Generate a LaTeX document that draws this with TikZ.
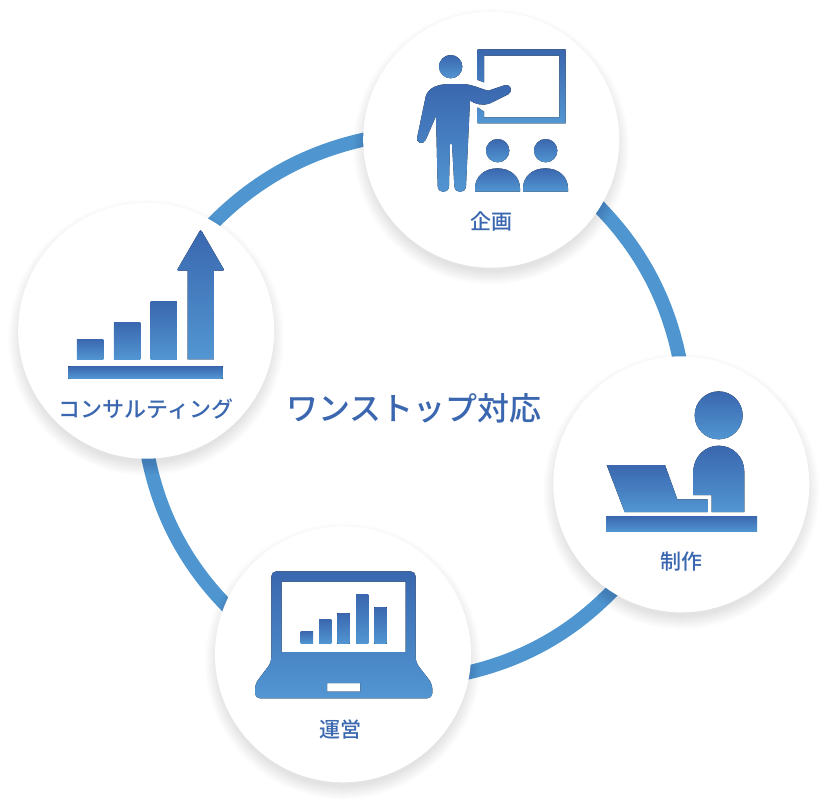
\documentclass[tikz,border=0pt]{standalone}
\usepackage{fontspec}
\setmainfont{Noto Sans CJK JP Medium}
\definecolor{gradtop}{RGB}{58,103,175}
\definecolor{gradbot}{RGB}{82,150,210}
\definecolor{ringblue}{RGB}{79,150,208}
\pgfdeclarelayer{back}
\pgfsetlayers{back,main}
\tikzset{
    hub/.style={circle, fill=white, minimum size=256pt, inner sep=0pt},
    grad/.style={top color=gradtop, bottom color=gradbot, draw=none},
    caption/.style={text=gradtop, font=\fontsize{21}{21}\selectfont, inner sep=0pt},
    ringline/.style={draw=ringblue, line width=14pt, bend left=17.5, looseness=.86,
        shorten <=-8pt, shorten >=-8pt},
}
\begin{document}
\begin{tikzpicture}[x=1pt, y=-1pt]
    \useasboundingbox (0, 0) rectangle (828, 807);

    % soft shadows under the four circles
    \foreach \x/\y in {491.2/139.7, 681.3/484.3, 343/654.3, 146.2/330.7} {
        \foreach \i in {0, ..., 13} {
            \fill[black, opacity=0.006] (\x, \y + 7) circle[radius=128 + \i - 3];
        }
    }

    \node[hub] (plan) at (491.2, 139.7) {};
    \node[hub] (make) at (681.3, 484.3) {};
    \node[hub] (run) at (343, 654.3) {};
    \node[hub] (consult) at (146.2, 330.7) {};

    \begin{pgfonlayer}{back}
        \draw[ringline] (plan.-32) to (make.91);
        \draw[ringline] (make.237) to (run.-8);
        \draw[ringline] (run.157) to (consult.-89);
        \draw[ringline] (consult.58) to (plan.180);
    \end{pgfonlayer}

    \node[caption] (plantext) at (491.7, 221.7) {企画};
    \node[caption] (maketext) at (681, 561.7) {制作};
    \node[caption] (runtext) at (340.7, 729) {運営};
    \node[caption, font=\fontsize{22}{22}\selectfont] (consulttext) at (146, 409.3) {コンサルティング};
    \node[text=gradtop, font=\fontsize{32}{32}\selectfont, inner sep=0pt] (title) at (414, 408) {ワンストップ対応};

    % teacher, board, audience
    \begin{scope}[shift={(360, 0)}, scale=1/3]
        \fill[grad, even odd rule] (353, 148) -- (617, 148) -- (617, 370) -- (353, 370) -- (353, 322)
            -- (372, 335) -- (372, 352) -- (598, 352) -- (598, 167) -- (372, 167) -- (372, 247)
            -- (353, 240) -- cycle;
        \fill[grad] (272, 200) circle[radius=35];
        \fill[grad] (197, 290) .. controls (205, 262) and (235, 252) .. (270, 252) -- (310, 252)
            .. controls (340, 254) and (365, 268) .. (385, 272) -- (436, 255)
            .. controls (452, 252) and (460, 274) .. (445, 283) -- (388, 311)
            .. controls (368, 318) and (345, 312) .. (330, 302) -- (318, 558)
            .. controls (317, 582) and (284, 582) .. (283, 558) -- (276, 432) -- (270, 432) -- (267, 558)
            .. controls (266, 582) and (234, 582) .. (233, 558) -- (228, 348) -- (197, 420)
            .. controls (190, 436) and (166, 430) .. (172, 410) -- cycle;
        \foreach \i in {0, 144} {
            \fill[grad] (413 + \i, 452) circle[radius=35];
            \fill[grad] (345 + \i, 575) -- (345 + \i, 565) .. controls (345 + \i, 528) and (375 + \i, 505) .. (412 + \i, 505)
                .. controls (450 + \i, 505) and (480 + \i, 528) .. (480 + \i, 565) -- (480 + \i, 575) -- cycle;
        }
    \end{scope}

    % person at a desk
    \begin{scope}[shift={(550, 350)}, scale=1/3]
        \fill[grad] (506, 196) circle[radius=72];
        \fill[grad] (430, 435) -- (430, 365) .. controls (430, 320) and (465, 287) .. (506, 287)
            .. controls (548, 287) and (583, 320) .. (583, 365) -- (583, 486) -- (485, 486) -- (485, 435) -- cycle;
        \fill[grad] (170, 345) -- (345, 345) -- (382, 448) -- (473, 448) -- (473, 486) -- (224, 486) -- cycle;
        \fill[grad] (168, 498) rectangle (621, 545);
    \end{scope}

    % laptop with bars
    \begin{scope}[shift={(210, 530)}, scale=1/3]
        \fill[grad, even odd rule] (400, 124) [rounded corners=5pt] -- (617, 124) -- (617, 397)
            -- (667, 462) -- (667, 505) -- (135, 505) -- (135, 462) -- (184, 397) -- (184, 124) -- cycle
            [sharp corners] (215, 155) rectangle (587, 366) (351, 459) rectangle (451, 485);
        \foreach \x/\y in {272/304, 327/268, 382/249, 438/194, 493/231} {
            \fill[grad] (\x, \y) rectangle (\x + 37, 341);
        }
    \end{scope}

    % rising bars with arrow
    \begin{scope}[shift={(10, 200)}, scale=1/3]
        \foreach \x/\y in {201/417, 312/367, 422/304} {
            \fill[grad] (\x, \y) rectangle (\x + 79, 478);
        }
        \fill[grad] (533, 478) -- (533, 212) [rounded corners=2pt] -- (500, 212) -- (572, 88) -- (644, 212)
            [sharp corners] -- (612, 212) -- (612, 478) -- cycle;
        \fill[grad] (175, 499) rectangle (638, 536);
    \end{scope}
\end{tikzpicture}
\end{document}
